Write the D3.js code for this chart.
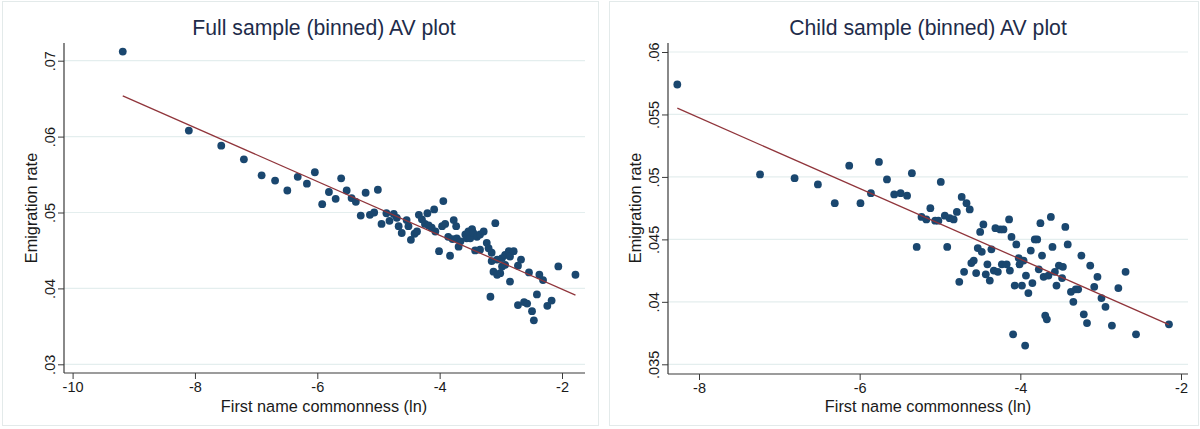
<!DOCTYPE html>
<html>
<head>
<meta charset="utf-8">
<script src="https://cdn.jsdelivr.net/npm/d3@7"></script>
<style>
  html, body { margin: 0; padding: 0; background: #ffffff; }
  svg { display: block; font-family: "Liberation Sans", Arial, sans-serif; }
</style>
</head>
<body>
<svg id="chart" width="1200" height="429"></svg>
<script>
// ---------------- DATA ----------------
const titles = ["Full sample (binned) AV plot", "Child sample (binned) AV plot"];
const xLabel = "First name commonness (ln)";
const yLabel = "Emigration rate";

const fullXTicks = [-10, -8, -6, -4, -2];
const fullXTickLabels = ["-10", "-8", "-6", "-4", "-2"];
const fullYTicks = [0.03, 0.04, 0.05, 0.06, 0.07];
const fullYTickLabels = [".03", ".04", ".05", ".06", ".07"];

const childXTicks = [-8, -6, -4, -2];
const childXTickLabels = ["-8", "-6", "-4", "-2"];
const childYTicks = [0.035, 0.04, 0.045, 0.05, 0.055, 0.06];
const childYTickLabels = [".035", ".04", ".045", ".05", ".055", ".06"];

// binned points [commonness, emigration rate]
const fullPoints = [
  [-9.18,.0712],[-8.10,.0608],[-7.57,.0588],[-7.20,.0570],[-6.91,.0549],[-6.69,.0542],[-6.49,.0529],[-6.32,.0547],
  [-6.17,.0538],[-6.04,.0553],[-5.92,.0511],[-5.81,.0527],[-5.70,.0518],[-5.61,.0545],[-5.52,.0529],[-5.44,.0519],
  [-5.37,.0514],[-5.29,.0496],[-5.21,.0526],[-5.14,.0497],[-5.07,.0500],[-5.01,.0530],[-4.95,.0485],[-4.87,.0499],
  [-4.82,.0489],[-4.75,.0498],[-4.70,.0493],[-4.67,.0482],[-4.62,.0473],[-4.54,.0490],[-4.51,.0482],[-4.47,.0464],
  [-4.41,.0472],[-4.37,.0475],[-4.34,.0497],[-4.29,.0491],[-4.24,.0485],[-4.20,.0499],[-4.18,.0483],[-4.13,.0480],
  [-4.09,.0504],[-4.07,.0475],[-4.01,.0449],[-3.96,.0482],[-3.94,.0515],[-3.91,.0485],[-3.86,.0468],[-3.83,.0443],
  [-3.79,.0465],[-3.77,.0490],[-3.73,.0482],[-3.72,.0466],[-3.69,.0455],[-3.66,.0462],[-3.58,.0471],[-3.56,.0466],
  [-3.53,.0475],[-3.50,.0466],[-3.47,.0478],[-3.45,.0473],[-3.42,.0450],[-3.39,.0468],[-3.34,.0471],[-3.34,.0451],
  [-3.28,.0475],[-3.23,.0460],[-3.20,.0453],[-3.17,.0389],[-3.15,.0447],[-3.15,.0436],[-3.12,.0422],[-3.09,.0486],
  [-3.06,.0438],[-3.06,.0418],[-3.01,.0420],[-2.98,.0440],[-2.98,.0429],[-2.93,.0444],[-2.93,.0431],[-2.87,.0449],
  [-2.85,.0442],[-2.85,.0409],[-2.79,.0449],[-2.72,.0378],[-2.72,.0430],[-2.67,.0438],[-2.62,.0382],[-2.57,.0380],
  [-2.54,.0421],[-2.49,.0370],[-2.46,.0358],[-2.41,.0392],[-2.37,.0418],[-2.31,.0411],[-2.24,.0377],[-2.17,.0384],
  [-2.06,.0429],[-1.78,.0418]
];

const childPoints = [
  [-8.27,.0574],[-7.24,.0502],[-6.81,.0499],[-6.52,.0494],[-6.31,.0479],[-6.13,.0509],[-5.99,.0479],[-5.86,.0487],
  [-5.76,.0512],[-5.66,.0498],[-5.57,.0486],[-5.49,.0487],[-5.41,.0485],[-5.35,.0503],[-5.29,.0444],[-5.23,.0468],
  [-5.17,.0466],[-5.12,.0475],[-5.06,.0465],[-5.02,.0465],[-4.99,.0496],[-4.94,.0469],[-4.91,.0444],[-4.88,.0467],
  [-4.83,.0466],[-4.79,.0472],[-4.76,.0416],[-4.73,.0484],[-4.70,.0424],[-4.67,.0479],[-4.63,.0474],[-4.61,.0431],
  [-4.58,.0433],[-4.55,.0423],[-4.53,.0443],[-4.50,.0456],[-4.48,.0440],[-4.46,.0462],[-4.43,.0422],[-4.41,.0430],
  [-4.38,.0417],[-4.36,.0442],[-4.33,.0425],[-4.31,.0459],[-4.28,.0424],[-4.25,.0458],[-4.23,.0430],[-4.21,.0458],
  [-4.17,.0430],[-4.14,.0466],[-4.13,.0425],[-4.11,.0452],[-4.09,.0374],[-4.07,.0413],[-4.05,.0446],[-4.02,.0435],
  [-4.01,.0430],[-3.98,.0413],[-3.96,.0433],[-3.94,.0365],[-3.93,.0421],[-3.90,.0407],[-3.87,.0441],[-3.85,.0415],
  [-3.82,.0450],[-3.79,.0450],[-3.77,.0426],[-3.75,.0463],[-3.73,.0437],[-3.71,.0420],[-3.69,.0389],[-3.67,.0386],
  [-3.65,.0421],[-3.62,.0468],[-3.60,.0444],[-3.57,.0424],[-3.55,.0413],[-3.52,.0429],[-3.48,.0419],[-3.47,.0428],
  [-3.44,.0460],[-3.41,.0446],[-3.37,.0408],[-3.34,.0400],[-3.31,.0410],[-3.28,.0410],[-3.24,.0437],[-3.21,.0390],
  [-3.17,.0383],[-3.13,.0429],[-3.08,.0412],[-3.04,.0420],[-2.99,.0403],[-2.94,.0396],[-2.86,.0381],[-2.78,.0411],
  [-2.69,.0424],[-2.56,.0374],[-2.15,.0382]
];

// linear fit: y = intercept + slope * x
const fitIntercepts = [0.03281, 0.03209];
const fitSlopes = [-0.003546, -0.002831];

// ---------------- LAYOUT ----------------
const panels = [
  {
    title: titles[0], points: fullPoints,
    xTicks: fullXTicks, xTickLabels: fullXTickLabels, yTicks: fullYTicks, yTickLabels: fullYTickLabels,
    xDomain: [-10, -2], xRange: [72.6, 562], yDomain: [0.03, 0.07], yRange: [364.3, 60.7],
    axisX: 64, axisY: 373, right: 585, top: 43,
    border: [2, 1, 596, 424], titleX: 324, yLabelX: 31.5,
    intercept: fitIntercepts[0], slope: fitSlopes[0]
  },
  {
    title: titles[1], points: childPoints,
    xTicks: childXTicks, xTickLabels: childXTickLabels, yTicks: childYTicks, yTickLabels: childYTickLabels,
    xDomain: [-8, -2], xRange: [699, 1181], yDomain: [0.035, 0.06], yRange: [364.3, 52],
    axisX: 668, axisY: 374, right: 1188, top: 43,
    border: [609, 1, 589, 424], titleX: 928, yLabelX: 635,
    intercept: fitIntercepts[1], slope: fitSlopes[1]
  }
];

const svg = d3.select("#chart");
const axisColor = "#3a3a3a";
const gridColor = "#e4eeee";
const textColor = "#1a1a1a";
const titleColor = "#1e2c4a";
const dotColor = "#1a476f";
const lineColor = "#90353b";
const fontFam = "'Liberation Sans', Arial, sans-serif";

panels.forEach(p => {
  const g = svg.append("g");
  const x = d3.scaleLinear().domain(p.xDomain).range(p.xRange);
  const y = d3.scaleLinear().domain(p.yDomain).range(p.yRange);

  // panel border
  g.append("rect")
    .attr("x", p.border[0] + 0.5).attr("y", p.border[1] + 0.5)
    .attr("width", p.border[2]).attr("height", p.border[3])
    .attr("fill", "none").attr("stroke", "#e3eaea").attr("stroke-width", 1);

  // gridlines
  g.selectAll(".grid").data(p.yTicks).enter().append("line")
    .attr("x1", p.axisX).attr("x2", p.right)
    .attr("y1", d => y(d)).attr("y2", d => y(d))
    .attr("stroke", gridColor).attr("stroke-width", 1.2);

  // y axis
  const yAxis = d3.axisLeft(y).tickValues(p.yTicks)
    .tickFormat((d, i) => p.yTickLabels[i]).tickSize(6).tickSizeOuter(0);
  const gy = g.append("g").attr("transform", `translate(${p.axisX},0)`).call(yAxis);
  gy.select(".domain").remove();
  gy.selectAll(".tick line").attr("stroke", axisColor).attr("stroke-width", 1);
  gy.selectAll(".tick text")
    .attr("x", 0).attr("dy", 0)
    .attr("transform", "translate(-9,0) rotate(-90)")
    .attr("text-anchor", "middle")
    .attr("font-size", 14.5).attr("fill", textColor)
    .style("font-family", fontFam);

  // x axis
  const xAxis = d3.axisBottom(x).tickValues(p.xTicks)
    .tickFormat((d, i) => p.xTickLabels[i]).tickSize(6).tickSizeOuter(0);
  const gx = g.append("g").attr("transform", `translate(0,${p.axisY})`).call(xAxis);
  gx.select(".domain").remove();
  gx.selectAll(".tick line").attr("stroke", axisColor).attr("stroke-width", 1);
  gx.selectAll(".tick text")
    .attr("y", 9).attr("dy", "0.71em")
    .attr("font-size", 14.5).attr("fill", textColor)
    .style("font-family", fontFam);

  // axis lines
  g.append("line").attr("x1", p.axisX).attr("x2", p.axisX)
    .attr("y1", p.top).attr("y2", p.axisY)
    .attr("stroke", axisColor).attr("stroke-width", 1.2);
  g.append("line").attr("x1", p.axisX).attr("x2", p.right)
    .attr("y1", p.axisY).attr("y2", p.axisY)
    .attr("stroke", axisColor).attr("stroke-width", 1.2);

  // points
  g.selectAll(".dot").data(p.points).enter().append("circle")
    .attr("cx", d => x(d[0])).attr("cy", d => y(d[1]))
    .attr("r", 3.9).attr("fill", dotColor);

  // fit line over data range
  const xr = d3.extent(p.points, d => d[0]);
  const fit = xr.map(v => [v, p.intercept + p.slope * v]);
  g.append("path")
    .attr("d", d3.line().x(d => x(d[0])).y(d => y(d[1]))(fit))
    .attr("fill", "none").attr("stroke", lineColor).attr("stroke-width", 1.3);

  // title
  g.append("text").attr("x", p.titleX).attr("y", 35)
    .attr("text-anchor", "middle").attr("font-size", 21.2).attr("fill", titleColor)
    .text(p.title);

  // x label
  g.append("text").attr("x", p.titleX).attr("y", 412)
    .attr("text-anchor", "middle").attr("font-size", 16.3).attr("fill", textColor)
    .text(xLabel);

  // y label
  g.append("text")
    .attr("transform", `translate(${p.yLabelX + 5.5},208) rotate(-90)`)
    .attr("text-anchor", "middle").attr("font-size", 16.3).attr("fill", textColor)
    .text(yLabel);
});
</script>
</body>
</html>
